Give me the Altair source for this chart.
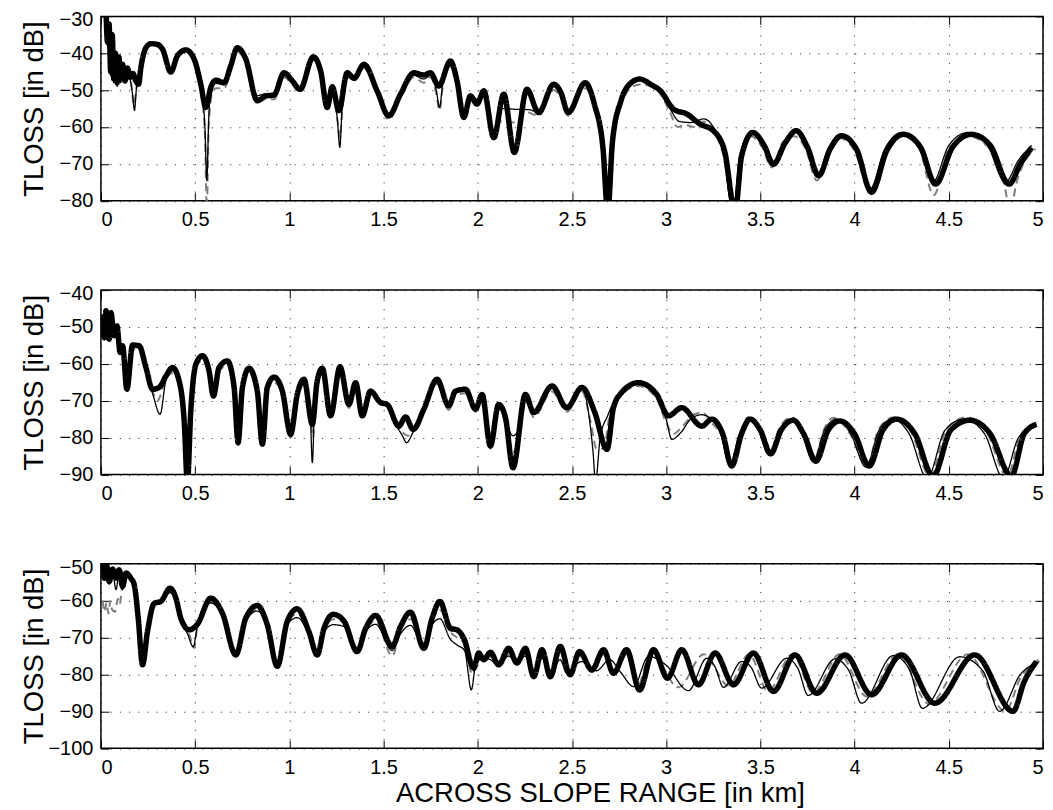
import altair as alt
import pandas as pd

FONT = "Liberation Sans"
X_TICKS = [0, 0.5, 1, 1.5, 2, 2.5, 3, 3.5, 4, 4.5, 5]
Y_DOMAINS = [(-80, -30), (-90, -40), (-100, -50)]
Y_TITLE = "TLOSS [in dB]"
X_TITLE = "ACROSS SLOPE RANGE [in km]"
SERIES = ["a_gray", "b_thin", "c_thick"]

# ---------------- panel 1 ----------------
P1_THICK_X = [0.027, 0.035, 0.043, 0.052, 0.060, 0.068, 0.077, 0.086, 0.095, 0.105, 0.115, 0.128, 0.140, 0.155,
              0.170, 0.185, 0.200, 0.212, 0.239, 0.265, 0.300, 0.327, 0.371, 0.406, 0.451, 0.495, 0.530, 0.557,
              0.583, 0.610, 0.654, 0.689, 0.724, 0.769, 0.830, 0.875, 0.919, 0.972, 1.016, 1.057, 1.127, 1.166,
              1.201, 1.228, 1.263, 1.307, 1.343, 1.396, 1.466, 1.528, 1.590, 1.661, 1.714, 1.749, 1.793, 1.855,
              1.890, 1.926, 1.961, 1.996, 2.032, 2.085, 2.138, 2.194, 2.261, 2.323, 2.403, 2.440, 2.480, 2.570,
              2.620, 2.665, 2.690, 2.715, 2.760, 2.810, 2.860, 2.920, 2.970, 3.040, 3.110, 3.180, 3.250, 3.310,
              3.366, 3.400, 3.460, 3.520, 3.570, 3.630, 3.690, 3.750, 3.810, 3.870, 3.930, 4.010, 4.090, 4.170,
              4.260, 4.350, 4.430, 4.520, 4.620, 4.720, 4.820, 4.880, 4.940]
P1_THICK_Y = [-28, -37, -32, -45, -35, -47, -40, -48, -41, -47, -43, -47.5, -44, -46.5,
              -45.5, -47.5, -48.4, -43.9, -38.5, -37.4, -37.6, -38.9, -45.1, -40.7, -39.1, -41.6, -48.4, -54.7,
              -49.3, -47.3, -48.0, -43.4, -38.5, -41.6, -52.9, -51.6, -51.3, -45.3, -47.5, -49.8, -41.0, -44.8,
              -54.7, -49.1, -55.6, -45.3, -46.8, -43.0, -50.2, -57.0, -51.1, -45.3, -45.9, -45.3, -48.9, -42.1,
              -47.5, -57.4, -51.6, -53.8, -50.2, -62.9, -51.1, -66.9, -49.8, -56.1, -48.4, -50.5, -56.1, -48.0,
              -54.0, -66.0, -83.0, -64.0, -52.9, -48.2, -47.0, -48.5, -50.2, -55.2, -56.5, -59.2, -61.0, -66.5,
              -83.0, -68.0, -61.5, -65.0, -70.1, -64.5, -61.0, -65.5, -73.2, -66.0, -62.4, -66.0, -77.7, -66.5,
              -62.0, -65.5, -75.5, -65.5, -62.0, -65.0, -75.5, -70.0, -65.6]

P1_THIN_X = [0.027, 0.035, 0.043, 0.052, 0.060, 0.068, 0.077, 0.086, 0.095, 0.105, 0.115, 0.128, 0.140, 0.155,
             0.170, 0.178, 0.190, 0.200, 0.212, 0.239, 0.265, 0.300, 0.327, 0.371, 0.406, 0.451, 0.495, 0.530,
             0.552, 0.562, 0.572, 0.583, 0.610, 0.654, 0.689, 0.724, 0.769, 0.830, 0.875, 0.919, 0.972, 1.016,
             1.057, 1.127, 1.166, 1.201, 1.228, 1.255, 1.268, 1.280, 1.307, 1.343, 1.396, 1.466, 1.528, 1.590,
             1.661, 1.714, 1.749, 1.780, 1.797, 1.815, 1.855, 1.890, 1.926, 1.961, 1.996, 2.032, 2.085, 2.120,
             2.200, 2.270, 2.323, 2.403, 2.440, 2.480, 2.570, 2.620, 2.665, 2.685, 2.710, 2.760, 2.810, 2.860,
             2.920, 2.970, 3.020, 3.070, 3.130, 3.200, 3.250, 3.300, 3.355, 3.390, 3.450, 3.510, 3.560, 3.620,
             3.680, 3.740, 3.800, 3.860, 3.920, 4.000, 4.080, 4.160, 4.250, 4.340, 4.415, 4.500, 4.600, 4.700,
             4.800, 4.870, 4.940]
P1_THIN_Y = [-29, -38, -33, -46, -36, -48, -41, -49, -42, -48, -44, -48, -45, -47,
             -52, -55.5, -49, -48, -43.5, -38.3, -37.6, -38.0, -39.5, -44.5, -40.5, -39.3, -42, -49,
             -60, -74.5, -58, -50, -48.2, -48.5, -44, -39, -42, -51.5, -51, -51.8, -46, -47.5,
             -49.5, -41.5, -45, -53.5, -50, -58, -65.5, -55, -46, -47, -43.5, -50.5, -56.5, -51.5,
             -46, -47, -46, -50, -54.7, -48, -43, -48, -56.5, -51, -52.5, -50, -61, -55,
             -55.2, -55.3, -56, -49, -51, -56, -48.5, -54.5, -67, -83, -63, -53.5, -48.5, -47.3,
             -48.5, -50.5, -55, -58.5, -58.8, -57.8, -60, -66, -83, -68, -61.5, -65, -70.5, -64.5,
             -61, -65.5, -73.5, -66, -62, -66, -77, -66, -61.5, -65, -75, -65, -61.5, -64.5,
             -75, -69, -65]

P1_GRAY_X = [0.03, 0.04, 0.05, 0.06, 0.07, 0.08, 0.09, 0.10, 0.115, 0.13, 0.145, 0.16, 0.175, 0.19,
             0.21, 0.24, 0.265, 0.30, 0.33, 0.37, 0.406, 0.451, 0.495, 0.53, 0.552, 0.562, 0.572, 0.59,
             0.61, 0.654, 0.69, 0.724, 0.77, 0.83, 0.875, 0.92, 0.972, 1.016, 1.057, 1.127, 1.166, 1.201,
             1.228, 1.255, 1.268, 1.28, 1.307, 1.343, 1.396, 1.466, 1.528, 1.59, 1.661, 1.714, 1.749, 1.78,
             1.797, 1.815, 1.855, 1.89, 1.926, 1.961, 1.996, 2.032, 2.085, 2.12, 2.2, 2.26, 2.323, 2.403,
             2.44, 2.48, 2.57, 2.62, 2.665, 2.688, 2.71, 2.76, 2.81, 2.86, 2.92, 2.97, 3.02, 3.06,
             3.10, 3.15, 3.20, 3.25, 3.30, 3.36, 3.39, 3.45, 3.51, 3.56, 3.62, 3.68, 3.74, 3.80,
             3.86, 3.92, 4.00, 4.085, 4.16, 4.25, 4.34, 4.42, 4.50, 4.60, 4.70, 4.80, 4.825, 4.86,
             4.92, 4.96]
P1_GRAY_Y = [-30, -38, -34, -46, -37, -48, -42, -48, -44, -48, -45, -48, -54, -49,
             -44, -38.5, -37.8, -38.2, -40, -45, -41, -39.5, -42.5, -50, -62, -82, -60, -51,
             -49.5, -49.5, -44.5, -39.5, -42.5, -52, -52.5, -52.5, -46.5, -48.5, -50.5, -42, -46, -54,
             -51, -58, -63, -56, -46.5, -47.5, -44, -51, -58, -52, -46.5, -48, -46.5, -51,
             -55.5, -49, -43.5, -49, -58, -52, -53, -50.5, -62, -58.5, -58.8, -56, -57, -50,
             -52, -57, -49.5, -55, -68, -83, -64, -54, -49.5, -48.5, -49, -51, -56, -60,
             -59.5, -60, -58.5, -61, -67, -83, -68, -62.5, -65.5, -71, -64, -62.5, -66, -74.5,
             -66.5, -63, -66.5, -78, -66.5, -62.5, -65.5, -78.5, -66, -62.5, -65, -77, -83, -75,
             -68, -66]

# ---------------- panel 2 ----------------
P2_THICK_X = [0.009, 0.018, 0.027, 0.044, 0.053, 0.071, 0.085, 0.102, 0.115, 0.138, 0.168, 0.203, 0.239, 0.274,
              0.309, 0.345, 0.380, 0.415, 0.442, 0.459, 0.477, 0.504, 0.539, 0.574, 0.597, 0.627, 0.671, 0.707,
              0.728, 0.751, 0.786, 0.830, 0.857, 0.883, 0.919, 0.963, 1.007, 1.042, 1.078, 1.122, 1.148, 1.175,
              1.219, 1.269, 1.316, 1.352, 1.387, 1.431, 1.484, 1.519, 1.581, 1.617, 1.657, 1.714, 1.784, 1.846,
              1.882, 1.935, 1.988, 2.023, 2.067, 2.111, 2.147, 2.187, 2.253, 2.297, 2.394, 2.473, 2.553, 2.620,
              2.686, 2.720, 2.760, 2.853, 2.950, 3.012, 3.083, 3.189, 3.242, 3.300, 3.348, 3.400, 3.445, 3.500,
              3.555, 3.610, 3.675, 3.730, 3.795, 3.860, 3.922, 4.000, 4.078, 4.150, 4.223, 4.320, 4.417, 4.510,
              4.611, 4.720, 4.832, 4.900, 4.965]
P2_THICK_Y = [-46.5, -52.9, -45.6, -53.3, -46.1, -52.4, -49.7, -56.9, -55.1, -66.9, -54.9, -55.1, -61.0, -66.9,
              -66.4, -63.3, -61.0, -64.6, -75.5, -92.0, -72.8, -60.1, -57.8, -61.9, -68.7, -61.0, -59.2, -66.4,
              -81.4, -66.4, -61.2, -67.4, -81.8, -66.4, -63.6, -67.4, -79.1, -68.3, -64.2, -76.4, -64.6, -61.2,
              -74.1, -60.8, -71.0, -65.1, -74.1, -67.4, -70.5, -71.0, -76.9, -74.4, -77.8, -72.3, -64.2, -71.4,
              -67.4, -66.9, -72.3, -68.3, -82.3, -71.0, -74.6, -88.2, -68.3, -73.2, -66.0, -71.9, -66.4, -73.0,
              -83.2, -72.0, -68.0, -65.1, -68.3, -74.1, -71.9, -76.9, -75.0, -79.0, -87.7, -79.0, -75.0, -78.0,
              -84.4, -78.0, -75.3, -79.0, -86.4, -78.0, -75.5, -79.0, -87.7, -78.0, -75.0, -79.0, -90.5, -78.0,
              -75.3, -79.0, -90.5, -79.0, -76.4]

P2_THIN_X = [0.009, 0.018, 0.027, 0.044, 0.053, 0.071, 0.085, 0.102, 0.115, 0.138, 0.168, 0.203, 0.239, 0.274,
             0.314, 0.345, 0.380, 0.415, 0.442, 0.459, 0.477, 0.504, 0.539, 0.574, 0.597, 0.627, 0.671, 0.707,
             0.728, 0.751, 0.786, 0.830, 0.857, 0.883, 0.919, 0.963, 1.007, 1.042, 1.078, 1.110, 1.122, 1.135,
             1.148, 1.175, 1.219, 1.269, 1.316, 1.352, 1.387, 1.431, 1.484, 1.519, 1.560, 1.600, 1.622, 1.657,
             1.690, 1.714, 1.784, 1.846, 1.882, 1.935, 1.988, 2.023, 2.067, 2.111, 2.147, 2.187, 2.230, 2.253,
             2.297, 2.394, 2.473, 2.553, 2.590, 2.612, 2.625, 2.650, 2.690, 2.720, 2.760, 2.853, 2.950, 3.000,
             3.030, 3.080, 3.130, 3.189, 3.242, 3.290, 3.335, 3.390, 3.435, 3.490, 3.543, 3.600, 3.660, 3.720,
             3.780, 3.840, 3.905, 3.980, 4.060, 4.130, 4.200, 4.290, 4.385, 4.480, 4.580, 4.690, 4.790, 4.870,
             4.965]
P2_THIN_Y = [-47, -53.5, -46, -53.8, -46.5, -52.8, -50.2, -57.4, -55.5, -66.5, -55.3, -55.8, -62.5, -68,
             -73.7, -64.5, -61.8, -65, -76, -92, -73, -60.5, -58.3, -62.3, -69, -61.5, -59.7, -66.8,
             -81, -66.8, -61.7, -67.8, -81.5, -66.8, -64, -67.8, -79, -68.7, -64.6, -72, -86.8, -70,
             -65, -61.6, -74, -61.3, -71, -65.5, -74, -67.8, -70.8, -71.5, -76, -79.5, -81.4, -78.5,
             -75, -72.5, -64.7, -71.6, -67.8, -67.3, -72.5, -68.7, -82, -71.4, -75.5, -79.5, -76, -69,
             -73.5, -66.6, -72, -66.6, -74, -84, -92, -80, -74, -70.5, -67.8, -65.3, -68.5, -75,
             -80.5, -78.5, -75, -73.8, -75.2, -79, -87.5, -79, -75, -78, -84.6, -78, -75, -79,
             -86.5, -78, -75, -79, -88, -78, -75, -79, -91, -78, -75, -79, -91, -80,
             -76.5]

P2_GRAY_X = [0.009, 0.02, 0.03, 0.045, 0.055, 0.07, 0.085, 0.1, 0.115, 0.138, 0.168, 0.203, 0.239, 0.274,
             0.30, 0.345, 0.38, 0.415, 0.442, 0.459, 0.477, 0.504, 0.539, 0.574, 0.597, 0.627, 0.671, 0.707,
             0.728, 0.751, 0.786, 0.83, 0.857, 0.883, 0.919, 0.963, 1.007, 1.042, 1.078, 1.115, 1.125, 1.14,
             1.175, 1.219, 1.269, 1.316, 1.352, 1.387, 1.431, 1.484, 1.519, 1.56, 1.60, 1.63, 1.66, 1.70,
             1.784, 1.846, 1.882, 1.935, 1.988, 2.023, 2.067, 2.111, 2.147, 2.187, 2.23, 2.253, 2.297, 2.394,
             2.473, 2.553, 2.60, 2.63, 2.668, 2.70, 2.76, 2.853, 2.95, 3.00, 3.04, 3.08, 3.14, 3.19,
             3.242, 3.30, 3.34, 3.39, 3.435, 3.49, 3.548, 3.60, 3.665, 3.72, 3.785, 3.84, 3.887, 3.97,
             4.065, 4.13, 4.21, 4.30, 4.40, 4.49, 4.595, 4.70, 4.81, 4.88, 4.965]
P2_GRAY_Y = [-47.5, -52, -46.5, -53, -47, -52, -51, -56.5, -56, -67, -56, -56.5, -62, -67.5,
             -70, -64, -62.5, -65.5, -76.5, -92, -74, -61, -59, -63, -69.5, -62, -60.5, -67.5,
             -82, -67.5, -62.5, -68.5, -82.5, -67.5, -65, -68.5, -80, -69.5, -65.5, -75, -80, -70,
             -62.5, -75, -62, -72, -66, -75, -68, -70, -71, -75, -78.5, -79.5, -78, -74,
             -65.5, -72.5, -68.5, -68, -73, -69.5, -83, -72, -76, -84, -77, -70, -74.5, -67.5,
             -73, -67.5, -76, -83, -83, -74, -68.5, -66, -69.5, -76, -79, -77.3, -74, -73.2,
             -76, -80, -87, -79, -74.5, -77.5, -84, -77.5, -74.5, -78.5, -86, -77.5, -74.6, -78.5,
             -87.5, -77.5, -74.5, -78.5, -90.5, -77.5, -74.5, -78.5, -90.5, -79.5, -76]

# ---------------- panel 3 ----------------
P3_THICK_X = [0.009, 0.018, 0.032, 0.044, 0.062, 0.080, 0.097, 0.115, 0.133, 0.159, 0.177, 0.198, 0.221, 0.247,
              0.283, 0.318, 0.367, 0.398, 0.424, 0.468, 0.512, 0.583, 0.645, 0.716, 0.769, 0.830, 0.883, 0.936,
              0.989, 1.042, 1.104, 1.148, 1.184, 1.233, 1.290, 1.360, 1.405, 1.458, 1.546, 1.590, 1.643, 1.714,
              1.758, 1.799, 1.855, 1.890, 1.926, 1.979, 2.005, 2.032, 2.067, 2.111, 2.164, 2.208, 2.253, 2.297,
              2.341, 2.385, 2.438, 2.490, 2.540, 2.606, 2.668, 2.720, 2.790, 2.859, 2.933, 3.007, 3.083, 3.171,
              3.260, 3.357, 3.463, 3.569, 3.684, 3.799, 3.949, 4.090, 4.249, 4.426, 4.638, 4.841, 4.900, 4.965]
P3_THICK_Y = [-50.3, -53.9, -50.7, -54.8, -51.4, -53.9, -51.6, -56.1, -52.5, -53.9, -55.7, -64.7, -77.4, -68.4,
              -60.7, -60.2, -56.6, -59.3, -64.7, -67.9, -66.4, -59.3, -63.4, -74.7, -64.7, -61.3, -66.5, -77.8,
              -65.6, -62.2, -68.4, -74.7, -67.5, -63.7, -65.5, -73.8, -67.5, -64.0, -72.4, -67.0, -63.1, -72.9,
              -64.7, -60.2, -67.5, -67.9, -70.2, -78.3, -74.2, -76.0, -74.0, -77.4, -72.9, -76.9, -72.9, -80.6,
              -73.3, -80.6, -72.4, -80.1, -73.8, -78.8, -73.3, -79.7, -73.3, -84.2, -73.3, -81.0, -73.3, -82.8,
              -74.2, -82.8, -74.2, -84.6, -74.7, -85.1, -74.7, -85.5, -74.7, -87.8, -74.7, -90.0, -82.0, -76.5]

P3_THIN_X = [0.009, 0.018, 0.032, 0.044, 0.062, 0.080, 0.097, 0.115, 0.133, 0.159, 0.177, 0.198, 0.221, 0.247,
             0.283, 0.318, 0.367, 0.398, 0.424, 0.460, 0.490, 0.512, 0.583, 0.645, 0.716, 0.769, 0.830, 0.883,
             0.936, 0.989, 1.042, 1.104, 1.148, 1.184, 1.233, 1.290, 1.360, 1.405, 1.458, 1.546, 1.590, 1.643,
             1.714, 1.758, 1.799, 1.855, 1.890, 1.930, 1.966, 1.990, 2.032, 2.067, 2.111, 2.164, 2.208, 2.253,
             2.300, 2.345, 2.390, 2.438, 2.470, 2.550, 2.630, 2.700, 2.760, 2.827, 2.906, 3.000, 3.118, 3.216,
             3.260, 3.304, 3.400, 3.450, 3.507, 3.640, 3.700, 3.754, 3.896, 3.970, 4.037, 4.205, 4.290, 4.360,
             4.558, 4.680, 4.770, 4.880, 4.982]
P3_THIN_Y = [-51, -54.5, -51.5, -55.5, -52, -57, -52.5, -57, -53, -54.5, -56.5, -65, -76, -68,
             -61, -60.5, -57.8, -60, -65, -69, -72.5, -67, -60.6, -64, -74, -65.5, -62.8, -67,
             -77, -66.5, -64.6, -69, -74, -68.5, -66.5, -67, -73.5, -68.5, -66.4, -73.5, -69, -66.7,
             -72.5, -66.5, -64.9, -70.5, -72, -73.5, -84.2, -77, -75.5, -76, -77.5, -75, -77, -75,
             -79, -75.5, -79, -76, -79.5, -76.5, -79, -76, -79.5, -83.3, -75.1, -77.5, -84.4, -75.6,
             -78, -83.5, -76.5, -78, -83.7, -75.6, -78.5, -85.7, -75.8, -79, -87.8, -74.9, -78.5, -89.2,
             -75.2, -79, -90, -80, -76.5]

P3_GRAY_X = [0.009, 0.02, 0.03, 0.04, 0.05, 0.06, 0.075, 0.09, 0.10, 0.115, 0.133, 0.159, 0.177, 0.198,
             0.221, 0.247, 0.283, 0.318, 0.367, 0.398, 0.424, 0.468, 0.495, 0.512, 0.583, 0.645, 0.716, 0.769,
             0.830, 0.883, 0.936, 0.989, 1.042, 1.104, 1.148, 1.184, 1.233, 1.290, 1.360, 1.405, 1.458, 1.546,
             1.590, 1.643, 1.714, 1.758, 1.799, 1.855, 1.890, 1.926, 1.972, 2.000, 2.04, 2.08, 2.12, 2.17,
             2.21, 2.26, 2.30, 2.345, 2.39, 2.44, 2.485, 2.55, 2.61, 2.67, 2.725, 2.80, 2.845, 2.92,
             3.065, 3.20, 3.33, 3.44, 3.54, 3.67, 3.78, 3.92, 4.065, 4.23, 4.395, 4.60, 4.80, 4.88,
             4.975]
P3_GRAY_Y = [-60, -63, -60.5, -63.5, -60, -62.5, -63, -59.5, -61, -55, -53.5, -54.5, -56, -64,
             -75, -67.5, -60.5, -60, -57.5, -60, -65, -69, -72.8, -67, -60.3, -63.8, -74.5, -65.2,
             -62.5, -67, -77.5, -66.2, -63.5, -68.8, -74.5, -68, -65, -66, -74, -68, -65.5, -75,
             -68, -65, -73, -65.5, -62.5, -68.5, -70, -71.5, -80, -76, -76, -75, -77.5, -74,
             -77, -74, -80, -74.5, -80, -74, -79.5, -75, -79, -74.5, -79.5, -74, -83.5, -74,
             -83.5, -74.5, -83, -74.5, -84.5, -74.5, -85, -74.5, -86, -74.5, -88, -74.5, -90, -81,
             -76]

PANELS = [
    [(P1_GRAY_X, P1_GRAY_Y), (P1_THIN_X, P1_THIN_Y), (P1_THICK_X, P1_THICK_Y)],
    [(P2_GRAY_X, P2_GRAY_Y), (P2_THIN_X, P2_THIN_Y), (P2_THICK_X, P2_THICK_Y)],
    [(P3_GRAY_X, P3_GRAY_Y), (P3_THIN_X, P3_THIN_Y), (P3_THICK_X, P3_THICK_Y)],
]

W, H = 943, 184.5


def make_df(series):
    rows = []
    for name, (xs, ys) in zip(SERIES, series):
        for x, y in zip(xs, ys):
            rows.append({"x": x, "y": y, "s": name})
    return pd.DataFrame(rows)


def panel(df, ydom, show_xtitle):
    xsc = alt.Scale(domain=[0, 5], nice=False)
    ysc = alt.Scale(domain=[ydom[0], ydom[1]], nice=False)
    yticks = list(range(ydom[0], ydom[1] + 1, 10))
    common = dict(grid=True, gridColor="black", gridDash=[1.2, 8], gridOpacity=0.75, gridWidth=1,
                  ticks=False, tickSize=0, domain=False, labelFont=FONT, labelFontSize=20,
                  labelColor="black", titleFont=FONT, titleFontSize=27.5, titleFontWeight="normal",
                  titleColor="black")
    if show_xtitle:
        xaxis = alt.Axis(orient="bottom", values=X_TICKS, format="~g", labelPadding=9,
                         title=X_TITLE, titleX=499.5, titleY=53, titleBaseline="alphabetic",
                         titleAlign="center", **common)
    else:
        xaxis = alt.Axis(orient="bottom", values=X_TICKS, format="~g", labelPadding=9,
                         title=None, **common)
    yaxis = alt.Axis(orient="left", values=yticks, format="d", labelPadding=8,
                     labelOffset=alt.condition(f"datum.value == {ydom[1]}", alt.value(3.5), alt.value(0)),
                     title=Y_TITLE, titleX=-58, titleY=H / 2, titleAngle=270,
                     titleBaseline="alphabetic", titleAlign="center", **common)

    lines = alt.Chart(df).mark_line(clip=True, interpolate="monotone", strokeJoin="round").encode(
        x=alt.X("x:Q", scale=xsc, axis=xaxis),
        y=alt.Y("y:Q", scale=ysc, axis=yaxis),
        color=alt.Color("s:N", scale=alt.Scale(domain=SERIES, range=["#7f7f7f", "#000000", "#000000"]),
                        legend=None),
        strokeWidth=alt.StrokeWidth("s:N", scale=alt.Scale(type="ordinal", domain=SERIES,
                                                           range=[2, 1.3, 5.5]), legend=None),
        strokeDash=alt.StrokeDash("s:N", scale=alt.Scale(domain=SERIES, range=[[8, 5], [1, 0], [1, 0]]),
                                  legend=None),
    )

    # Matlab-style inward ticks: bottom/left axes pushed inside the frame by a negative offset
    tick_kw = dict(ticks=True, tickSize=8, tickColor="black", tickWidth=1, labels=False,
                   domain=False, grid=False, title=None, minExtent=0, maxExtent=0)
    inner_bl = alt.Chart(df).mark_line(strokeOpacity=0, clip=True).encode(
        x=alt.X("x:Q", scale=xsc, axis=alt.Axis(orient="bottom", values=X_TICKS, offset=-8, **tick_kw)),
        y=alt.Y("y:Q", scale=ysc, axis=alt.Axis(orient="left", values=yticks, offset=-8, **tick_kw)),
    )
    # top edge (bottom-orient axis moved to y=0) and right edge (left-orient axis moved to x=W)
    inner_tr = alt.Chart(df).mark_line(strokeOpacity=0, clip=True).encode(
        x=alt.X("x:Q", scale=xsc, axis=alt.Axis(orient="bottom", values=X_TICKS, offset=-H, **tick_kw)),
        y=alt.Y("y:Q", scale=ysc, axis=alt.Axis(orient="left", values=yticks, offset=-W, **tick_kw)),
    )
    return alt.layer(lines, inner_bl, inner_tr).resolve_axis(x="independent", y="independent").properties(
        width=W, height=H)


charts = [panel(make_df(s), d, i == 2) for i, (s, d) in enumerate(zip(PANELS, Y_DOMAINS))]

chart = alt.vconcat(*charts, spacing=89, bounds="flush").properties(
    padding={"left": 12, "top": 0, "right": 0, "bottom": 0},
    background="white",
).configure_view(stroke="black", strokeWidth=1.5)

chart.save("out.html", embed_options={"renderer": "svg", "actions": False})
